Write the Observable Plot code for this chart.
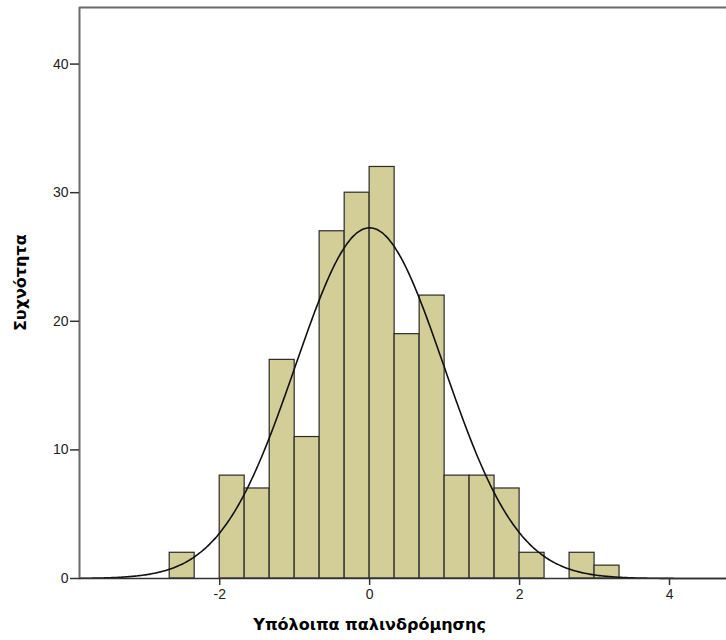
<!DOCTYPE html>
<html>
<head>
<meta charset="utf-8">
<script src="https://cdn.jsdelivr.net/npm/d3@7"></script>
<script src="https://cdn.jsdelivr.net/npm/@observablehq/plot@0.6"></script>
<style>
  html, body { margin: 0; padding: 0; background: #fff; }
  #chart svg { display: block; }
</style>
</head>
<body>
<div id="chart"></div>
<script>
// Histogram of regression residuals: lower bin edges (width 1/3) and frequencies
const binWidth = 1 / 3;
const binLower = [-2.667, -2.0, -1.667, -1.333, -1.0, -0.667, -0.333, 0.0, 0.333, 0.667, 1.0, 1.333, 1.667, 2.0, 2.667, 3.0];
const counts   = [2, 8, 7, 17, 11, 27, 30, 32, 19, 22, 8, 8, 7, 2, 2, 1];

// Fitted normal curve parameters
const fitMean = 0.0;
const fitSd = 0.99;
const fitN = 203;

// Axis ticks and titles
const xTicks = [-2, 0, 2, 4];
const yTicks = [0, 10, 20, 30, 40];
const xTitle = "Υπόλοιπα παλινδρόμησης";
const yTitle = "Συχνότητα";

const xDomain = [-3.87, 4.76];
const yDomain = [0, 44.4];

const bins = binLower.map((x0, i) => ({x1: x0, x2: x0 + binWidth, count: counts[i]}));

const density = x => fitN * binWidth / (fitSd * Math.sqrt(2 * Math.PI)) *
  Math.exp(-0.5 * ((x - fitMean) / fitSd) ** 2);
const curve = d3.range(xDomain[0], xDomain[1] + 0.001, 0.02).map(x => ({x, y: density(x)}));

const chart = Plot.plot({
  width: 726,
  height: 640,
  marginTop: 7,
  marginLeft: 79,
  marginRight: 0,
  marginBottom: 62,
  style: {fontFamily: "Liberation Sans, Arial, sans-serif", fontSize: "14px", color: "#222", background: "#fff"},
  x: {domain: xDomain},
  y: {domain: yDomain},
  marks: [
    Plot.rectY(bins, {x1: "x1", x2: "x2", y: "count", fill: "#d3ce97", stroke: "#2a2a2a", strokeWidth: 1.2}),
    Plot.line(curve, {x: "x", y: "y", stroke: "#111", strokeWidth: 1.6, curve: "natural"}),
    // frame: left and top edges
    Plot.ruleX([xDomain[0]], {stroke: "#6b6b6b", strokeWidth: 2}),
    Plot.ruleY([yDomain[1]], {stroke: "#6b6b6b", strokeWidth: 2}),
    Plot.ruleY([0], {stroke: "#333", strokeWidth: 1.5}),
    Plot.axisX({ticks: xTicks, tickFormat: d => String(d), tickSize: 7, tickPadding: 4, stroke: "#333", strokeWidth: 1.5, label: null, fontSize: 14}),
    Plot.axisY({ticks: yTicks, tickFormat: d => String(d), tickSize: 9, tickPadding: 2, stroke: "#333", strokeWidth: 1.5, label: null, fontSize: 14}),
    Plot.text([xTitle], {x: 0, frameAnchor: "bottom", dy: 46, text: d => d, textAnchor: "middle", fontWeight: "bold", fontSize: 16, fontFamily: "DejaVu Sans", fill: "#000", lineAnchor: "middle"}),
    Plot.text([yTitle], {y: 23, frameAnchor: "left", dx: -59, rotate: -90, text: d => d, textAnchor: "middle", fontWeight: "bold", fontSize: 16, fontFamily: "DejaVu Sans", fill: "#000", lineAnchor: "middle"})
  ]
});

document.getElementById("chart").appendChild(chart);
</script>
</body>
</html>
